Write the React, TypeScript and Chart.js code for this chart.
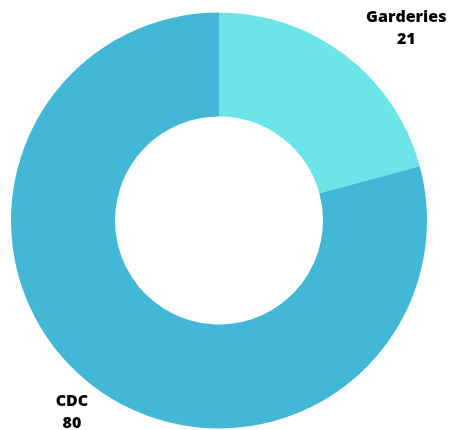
import React, { useEffect, useRef } from "react";
import { Chart, registerables } from "chart.js";

Chart.register(...registerables);

const categories = ["Garderies", "CDC"];
const values = [21, 80];
const colors = ["#6BE5E8", "#42B8D6"];

const labelPlugin = {
  id: "outerLabels",
  afterDatasetsDraw(chart: any) {
    const ctx = chart.ctx;
    const meta = chart.getDatasetMeta(0);
    ctx.save();
    ctx.font = "800 16px 'Open Sans'";
    ctx.fillStyle = "#000000";
    ctx.textBaseline = "middle";
    ctx.textAlign = "center";
    meta.data.forEach((arc: any, i: number) => {
      const p = arc.getProps(["x", "y", "startAngle", "endAngle", "outerRadius"], true);
      const mid = (p.startAngle + p.endAngle) / 2;
      const r = p.outerRadius + 34;
      const ax = p.x + Math.cos(mid) * r;
      const ay = p.y + Math.sin(mid) * r;
      const lines = [categories[i], String(values[i])];
      const w = Math.max(...lines.map((l) => ctx.measureText(l).width));
      const lh = 22;
      const cx = Math.cos(mid) > 0 ? ax + w / 2 : ax;
      const top = ay - (lh * (lines.length - 1)) / 2;
      lines.forEach((l, k) => ctx.fillText(l, cx, top + k * lh));
    });
    ctx.restore();
  },
};

export default function App() {
  const ref = useRef<HTMLCanvasElement>(null);
  useEffect(() => {
    const chart = new Chart(ref.current!, {
      type: "doughnut",
      data: {
        labels: categories,
        datasets: [
          {
            data: values,
            backgroundColor: colors,
            borderWidth: 0,
          },
        ],
      },
      options: {
        responsive: false,
        animation: false,
        cutout: "50%",
        layout: { padding: { top: 12.5, bottom: 1.5, left: 0, right: 11 } },
        plugins: { legend: { display: false }, tooltip: { enabled: false } },
      },
      plugins: [labelPlugin],
    });
    return () => chart.destroy();
  }, []);
  return (
    <div style={{ position: "fixed", left: 0, top: 0, width: 449, height: 430, background: "#fff" }}>
      <canvas ref={ref} width={449} height={430} style={{ display: "block" }} />
    </div>
  );
}
